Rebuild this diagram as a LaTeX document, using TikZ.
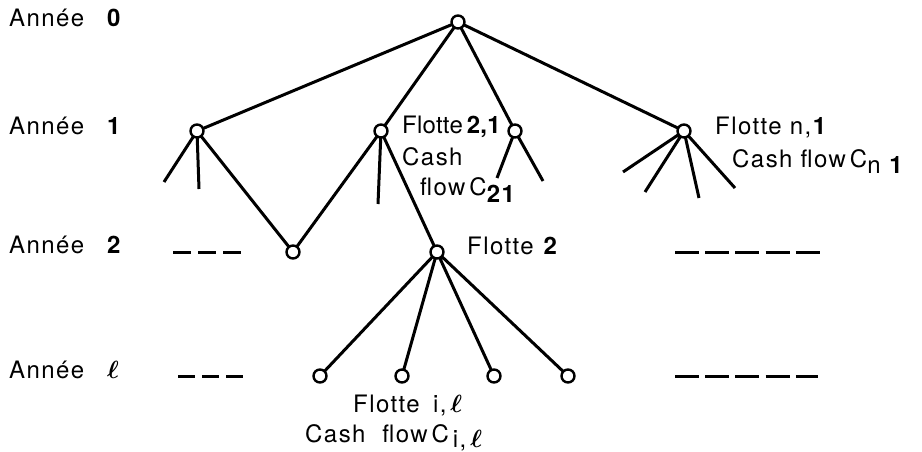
\documentclass[tikz,border=0pt]{standalone}
\usepackage{amsmath}
\usepackage{fontspec}
\setmainfont{TeX Gyre Heros}[LetterSpace=6]
\newcommand{\yearlabel}[1]{\makebox[98pt][l]{Année}#1}
\begin{document}
\begin{tikzpicture}[x=1pt,y=-1pt,
  vtx/.style={circle,draw,line width=2.4pt,fill=white,inner sep=0pt,minimum size=13pt},
  branch/.style={line width=3pt},
  gapline/.style={line width=3pt},
  lbl/.style={inner sep=0pt,anchor=base west,font=\fontsize{24}{26}\selectfont,align=left},
  every node/.append style={text=black}]
\useasboundingbox (0,0) rectangle (922,452);

% year labels
\node[lbl] (y0) at (9,27)  {\yearlabel{\textbf{0}}};
\node[lbl] (y1) at (9,135) {\yearlabel{\textbf{1}}};
\node[lbl] (y2) at (9,253) {\yearlabel{\textbf{2}}};
\node[lbl] (yl) at (9,378) {\yearlabel{$\boldsymbol{\ell}$}};

% stub ends
\coordinate (a1) at (164,182);
\coordinate (a2) at (199,189);
\coordinate (b1) at (378,204);
\coordinate (c1) at (497,178);
\coordinate (c2) at (543,181);
\coordinate (d1) at (623,172);
\coordinate (d2) at (645,192);
\coordinate (d3) at (699,198);
\coordinate (d4) at (735,188);

% vertex positions (edges are drawn first so the circles sit on top)
\coordinate (R)  at (458,22);
\coordinate (A)  at (197,131);
\coordinate (B)  at (381,131);
\coordinate (C)  at (515,131);
\coordinate (D)  at (684,131);
\coordinate (E)  at (293,252);
\coordinate (F)  at (437,252);
\coordinate (G1) at (320,376);
\coordinate (G2) at (402,376);
\coordinate (G3) at (494,376);
\coordinate (G4) at (568,376);

\draw[branch] (R) -- (A) (R) -- (B) (R) -- (C) (R) -- (D);
\draw[branch] (A) -- (a1) (A) -- (a2) (A) -- (E);
\draw[branch] (B) -- (E) (B) -- (b1) (B) -- (F);
\draw[branch] (C) -- (c1) (C) -- (c2);
\draw[branch] (D) -- (d1) (D) -- (d2) (D) -- (d3) (D) -- (d4);
\draw[branch] (F) -- (G1) (F) -- (G2) (F) -- (G3) (F) -- (G4);

\foreach \n in {R,A,B,C,D,E,F,G1,G2,G3,G4}
  \node[vtx] (v\n) at (\n) {};

% omitted branches
\coordinate (l2a) at (173,252); \coordinate (l2b) at (241,252);
\coordinate (lla) at (178,376); \coordinate (llb) at (243,376);
\coordinate (r2a) at (675,252); \coordinate (r2b) at (820,252);
\coordinate (rla) at (675,376); \coordinate (rlb) at (818,376);
\draw[gapline,dash pattern=on 18pt off 7pt] (l2a) -- (l2b);
\draw[gapline,dash pattern=on 17pt off 7pt] (lla) -- (llb);
\draw[gapline,dash pattern=on 24pt off 6.2pt] (r2a) -- (r2b);
\draw[gapline,dash pattern=on 24pt off 6.2pt] (rla) -- (rlb);

% fleet labels
\node[lbl] (f21) at (402,133) {\addfontfeature{LetterSpace=1}Flotte\,\textbf{2,1}};
\node[lbl] (c21a) at (402,165) {Cash};
\node[lbl] (c21b) at (420,195) {flow\,C\raisebox{-0.3em}{\textbf{21}}};
\node[lbl] (fn1) at (715,135) {Flotte n,\textbf{1}};
\node[lbl] (cn1) at (732,167) {Cash flow\,C\raisebox{-0.25em}{n\hspace{0.3em}\textbf{1}}};
\node[lbl] (f2) at (467,254) {Flotte\hspace{0.35em}\textbf{2}};
\node[lbl] (fil) at (353,412) {Flotte\hspace{0.55em}i,\,$\boldsymbol{\ell}$};
\node[lbl] (cil) at (305,442) {Cash\hspace{0.7em}flow\,C\raisebox{-0.22em}{\,i,\,$\boldsymbol{\ell}$}};
\end{tikzpicture}
\end{document}
